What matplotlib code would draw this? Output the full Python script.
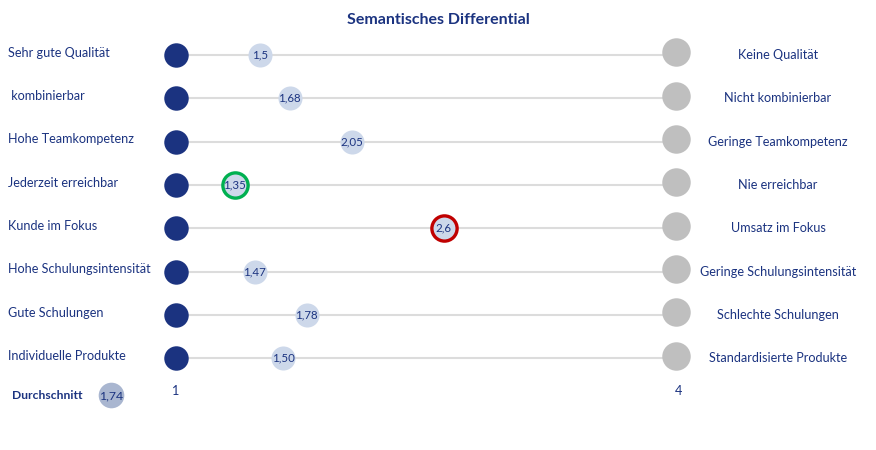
import matplotlib
matplotlib.use("Agg")
import matplotlib.pyplot as plt
import matplotlib.transforms as mtransforms

plt.rcParams['font.family'] = ['Lato', 'DejaVu Sans']

# Gegensatzpaare (links = 1, rechts = 4)
left_labels = ["Sehr gute Qualität", " kombinierbar", "Hohe Teamkompetenz",
               "Jederzeit erreichbar", "Kunde im Fokus", "Hohe Schulungsintensität",
               "Gute Schulungen", "Individuelle Produkte"]
right_labels = ["Keine Qualität", "Nicht kombinierbar", "Geringe Teamkompetenz",
                "Nie erreichbar", "Umsatz im Fokus", "Geringe Schulungsintensität",
                "Schlechte Schulungen", "Standardisierte Produkte"]
# Position der Bewertung auf der Skala und angezeigter Wert
values = [1.5, 1.68, 2.05, 1.35, 2.6, 1.47, 1.78, 1.64]
value_labels = ["1,5", "1,68", "2,05", "1,35", "2,6", "1,47", "1,78", "1,50"]
highlight = [None, None, None, "best", "worst", None, None, None]
average_label = "1,74"
scale_min, scale_max = 1, 4

navy = "#1B3380"
light = "#CDD8EA"
grey = "#BFBFBF"
line_col = "#DCDCDC"

fig = plt.figure(figsize=(8.76, 4.5), dpi=100)
ax = fig.add_axes([0, 0, 1, 1])
ax.set_xlim(-0.052, 5.183)
ax.set_ylim(9.12, -1.27)
ax.axis("off")

rows = list(range(len(values)))
trans = mtransforms.blended_transform_factory(fig.transFigure, ax.transData)

for i in rows:
    ax.plot([scale_min, scale_max], [i, i], color=line_col, lw=1.5, zorder=1)

ax.scatter([scale_min] * len(rows), rows, s=310, color=navy, zorder=3, linewidths=0)
ax.scatter([scale_max - 0.01] * len(rows), [r - 0.06 for r in rows], s=420, color=grey,
           zorder=3, linewidths=0)

for i, (v, lab, h) in enumerate(zip(values, value_labels, highlight)):
    if h is None:
        ax.scatter(v, i, s=300, color=light, zorder=4, linewidths=0)
    else:
        ring = "#00B050" if h == "best" else "#C00000"
        ax.scatter(v, i, s=330, color=light, edgecolors=ring, linewidths=2.4, zorder=4)
    ax.text(v, i, lab, ha="center", va="center", fontsize=8.3, color=navy, zorder=5)

for i, (l, r) in enumerate(zip(left_labels, right_labels)):
    ax.text(8 / 876, i - 0.05, l, transform=trans, ha="left", va="center",
            fontsize=9.1, color=navy)
    ax.text(778 / 876, i, r, transform=trans, ha="center", va="center",
            fontsize=9.1, color=navy)

ax.text(scale_min, 7.76, "1", ha="center", va="center", fontsize=9.1, color=navy)
ax.text(scale_max, 7.76, "4", ha="center", va="center", fontsize=9.1, color=navy)

ax.text(12 / 876, 7.86, "Durchschnitt", transform=trans, ha="left", va="center",
        fontsize=8.7, fontweight="bold", color=navy)
avg_x = (111 / 876) * (5.183 + 0.052) - 0.052
ax.scatter(avg_x, 7.86, s=340, color="#A9B6D0", zorder=4, linewidths=0)
ax.text(avg_x, 7.86, average_label, ha="center", va="center", fontsize=8.8, color=navy, zorder=5)

fig.text(0.5, 1 - 20 / 450, "Semantisches Differential", ha="center", va="center",
         fontsize=11.5, fontweight="bold", color=navy)

fig.savefig("out.png", dpi=100)
